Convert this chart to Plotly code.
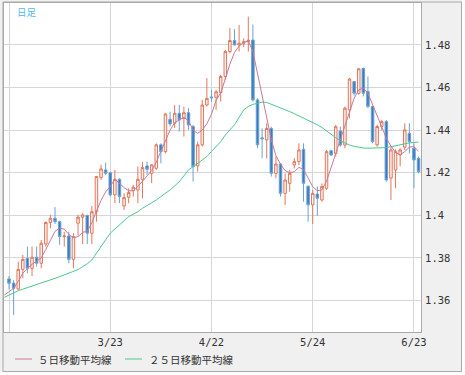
import pandas as pd
import plotly.graph_objects as go

# ---- data ----
start_date = "2021-02-19"
open_ = [1.3701, 1.3682, 1.3654, 1.3746, 1.3798, 1.3751, 1.3803, 1.3775, 1.3865, 1.3966,
         1.3986, 1.3970, 1.3900, 1.3903, 1.3793, 1.3963, 1.3991, 1.4000, 1.3916, 1.4017,
         1.4178, 1.4213, 1.4200, 1.4096, 1.4169, 1.4044, 1.4085, 1.4116, 1.4119, 1.4169,
         1.4232, 1.4197, 1.4221, 1.4331, 1.4299, 1.4451, 1.4432, 1.4479, 1.4455, 1.4482,
         1.4417, 1.4232, 1.4331, 1.4518, 1.4556, 1.4554, 1.4576, 1.4652, 1.4769, 1.4821,
         1.4800, 1.4808, 1.4815, 1.4823, 1.4542, 1.4364, 1.4354, 1.4408, 1.4197, 1.4241,
         1.4103, 1.4150, 1.4236, 1.4252, 1.4310, 1.4137, 1.4049, 1.4100, 1.4072, 1.4127,
         1.4303, 1.4291, 1.4396, 1.4330, 1.4495, 1.4628, 1.4573, 1.4690, 1.4581, 1.4511,
         1.4331, 1.4417, 1.4440, 1.4175, 1.4213, 1.4284, 1.4320, 1.4385, 1.4315, 1.4268]
high = [1.3715, 1.3696, 1.3782, 1.3814, 1.3853, 1.3853, 1.3853, 1.3884, 1.3971, 1.4002,
        1.4038, 1.3975, 1.3923, 1.3923, 1.3916, 1.4002, 1.4010, 1.4002, 1.4044, 1.4185,
        1.4237, 1.4248, 1.4205, 1.4213, 1.4174, 1.4103, 1.4127, 1.4143, 1.4229, 1.4250,
        1.4252, 1.4241, 1.4338, 1.4338, 1.4479, 1.4486, 1.4518, 1.4518, 1.4510, 1.4503,
        1.4425, 1.4346, 1.4542, 1.4644, 1.4589, 1.4589, 1.4660, 1.4777, 1.4879, 1.4874,
        1.4894, 1.4830, 1.4933, 1.4896, 1.4550, 1.4408, 1.4432, 1.4416, 1.4276, 1.4244,
        1.4197, 1.4213, 1.4268, 1.4338, 1.4338, 1.4137, 1.4119, 1.4135, 1.4150, 1.4307,
        1.4307, 1.4424, 1.4417, 1.4511, 1.4644, 1.4630, 1.4691, 1.4693, 1.4652, 1.4511,
        1.4425, 1.4448, 1.4448, 1.4320, 1.4310, 1.4315, 1.4432, 1.4432, 1.4338, 1.4276]
low = [1.3652, 1.3532, 1.3649, 1.3704, 1.3728, 1.3715, 1.3759, 1.3751, 1.3853, 1.3939,
       1.3959, 1.3861, 1.3853, 1.3775, 1.3751, 1.3905, 1.3865, 1.3865, 1.3865, 1.3970,
       1.4166, 1.4190, 1.4088, 1.4057, 1.4057, 1.4025, 1.4057, 1.4088, 1.4057, 1.4080,
       1.4190, 1.4151, 1.4213, 1.4244, 1.4291, 1.4417, 1.4409, 1.4393, 1.4370, 1.4401,
       1.4158, 1.4205, 1.4323, 1.4511, 1.4534, 1.4495, 1.4534, 1.4636, 1.4761, 1.4799,
       1.4769, 1.4790, 1.4769, 1.4534, 1.4315, 1.4268, 1.4268, 1.4182, 1.4174, 1.4088,
       1.4049, 1.4111, 1.4220, 1.4236, 1.4064, 1.3970, 1.3959, 1.3998, 1.4064, 1.4119,
       1.4279, 1.4276, 1.4322, 1.4315, 1.4456, 1.4562, 1.4566, 1.4558, 1.4503, 1.4338,
       1.4322, 1.4400, 1.4158, 1.4072, 1.4127, 1.4230, 1.4307, 1.4291, 1.4127, 1.4197]
close = [1.3681, 1.3657, 1.3746, 1.3793, 1.3751, 1.3803, 1.3775, 1.3869, 1.3966, 1.3986,
         1.3970, 1.3900, 1.3903, 1.3793, 1.3900, 1.3991, 1.4002, 1.3916, 1.4017, 1.4182,
         1.4218, 1.4197, 1.4096, 1.4169, 1.4088, 1.4083, 1.4107, 1.4132, 1.4169, 1.4224,
         1.4216, 1.4237, 1.4331, 1.4299, 1.4476, 1.4429, 1.4479, 1.4448, 1.4482, 1.4424,
         1.4229, 1.4331, 1.4518, 1.4549, 1.4552, 1.4580, 1.4652, 1.4769, 1.4821, 1.4800,
         1.4808, 1.4815, 1.4822, 1.4542, 1.4331, 1.4359, 1.4408, 1.4197, 1.4241, 1.4103,
         1.4166, 1.4197, 1.4252, 1.4307, 1.4150, 1.4049, 1.4103, 1.4080, 1.4135, 1.4299,
         1.4283, 1.4416, 1.4330, 1.4503, 1.4640, 1.4573, 1.4688, 1.4573, 1.4511, 1.4346,
         1.4417, 1.4440, 1.4166, 1.4307, 1.4299, 1.4307, 1.4401, 1.4346, 1.4260, 1.4205]

# moving averages, starting one trading day before the first visible candle
ma5 = [1.3626, 1.3642, 1.3657, 1.3689, 1.3728, 1.3750, 1.3770, 1.3785, 1.3800, 1.3840,
       1.3885, 1.3925, 1.3940, 1.3935, 1.3910, 1.3895, 1.3900, 1.3920, 1.3925, 1.3965,
       1.4020, 1.4070, 1.4110, 1.4135, 1.4170, 1.4150, 1.4130, 1.4115, 1.4115, 1.4135,
       1.4160, 1.4180, 1.4210, 1.4250, 1.4300, 1.4350, 1.4400, 1.4435, 1.4448, 1.4460,
       1.4445, 1.4400, 1.4385, 1.4400, 1.4430, 1.4475, 1.4540, 1.4575, 1.4640, 1.4710,
       1.4765, 1.4795, 1.4812, 1.4818, 1.4770, 1.4670, 1.4560, 1.4460, 1.4355, 1.4280,
       1.4240, 1.4210, 1.4200, 1.4205, 1.4225, 1.4215, 1.4175, 1.4135, 1.4115, 1.4120,
       1.4160, 1.4225, 1.4300, 1.4362, 1.4425, 1.4495, 1.4550, 1.4589, 1.4597, 1.4573,
       1.4518, 1.4464, 1.4417, 1.4362, 1.4325, 1.4295, 1.4284, 1.4299, 1.4320, 1.4323,
       1.4300]
ma25 = [1.3615, 1.3626, 1.3636, 1.3646, 1.3653, 1.3660, 1.3666, 1.3673, 1.3681, 1.3689,
        1.3697, 1.3704, 1.3712, 1.3720, 1.3728, 1.3735, 1.3745, 1.3759, 1.3772, 1.3790,
        1.3820, 1.3853, 1.3885, 1.3916, 1.3935, 1.3955, 1.3975, 1.3994, 1.4005, 1.4017,
        1.4033, 1.4045, 1.4056, 1.4072, 1.4088, 1.4103, 1.4119, 1.4138, 1.4158, 1.4185,
        1.4213, 1.4228, 1.4244, 1.4260, 1.4276, 1.4300, 1.4323, 1.4346, 1.4377, 1.4400,
        1.4425, 1.4460, 1.4495, 1.4511, 1.4521, 1.4526, 1.4532, 1.4530, 1.4522, 1.4512,
        1.4503, 1.4495, 1.4487, 1.4477, 1.4467, 1.4457, 1.4448, 1.4438, 1.4425, 1.4412,
        1.4395, 1.4380, 1.4365, 1.4349, 1.4338, 1.4330, 1.4324, 1.4319, 1.4316, 1.4315,
        1.4315, 1.4315, 1.4316, 1.4318, 1.4322, 1.4327, 1.4332, 1.4337, 1.4340, 1.4342,
        1.4344]

tick_dates = ["2021-02-19", "2021-03-23", "2021-04-22", "2021-05-24", "2021-06-23"]
tick_labels = ["", "3/23", "4/22", "5/24", "6/23"]
y_ticks = [1.36, 1.38, 1.40, 1.42, 1.44, 1.46, 1.48]
y_labels = ["1.36", "1.38", "1.4", "1.42", "1.44", "1.46", "1.48"]
series_names = ["５日移動平均線", "２５日移動平均線"]
title_text = "日足"

# ---- build ----
dates = pd.bdate_range(start_date, periods=len(close))
x_idx = list(range(len(close)))
ma_x = list(range(-1, len(close)))
tick_vals = [int(dates.get_loc(pd.Timestamp(d))) for d in tick_dates]

W, H = 465, 375
ML, MR, MT, MB = 4, 44, 3, 43
PW, PH = W - ML - MR, H - MT - MB


def px(x):
    return (x - ML) / PW


def py(y):
    return (H - MB - y) / PH


C_UP = "#e2775a"
C_DN_LINE = "#6aa2d6"
C_DN_FILL = "#3a7bbd"
C_MA5 = "#c9789b"
C_MA25 = "#4cc98c"

fig = go.Figure()
fig.add_trace(go.Scatter(x=ma_x, y=ma25, mode="lines", name=series_names[1],
                         line=dict(color=C_MA25, width=1), showlegend=False,
                         hoverinfo="skip"))
fig.add_trace(go.Candlestick(
    x=x_idx, open=open_, high=high, low=low, close=close,
    increasing=dict(line=dict(color=C_UP, width=1), fillcolor="#fff1ec"),
    decreasing=dict(line=dict(color=C_DN_LINE, width=1), fillcolor=C_DN_FILL),
    whiskerwidth=0, showlegend=False, hoverinfo="skip"))
fig.add_trace(go.Scatter(x=ma_x, y=ma5, mode="lines", name=series_names[0],
                         line=dict(color=C_MA5, width=1), showlegend=False,
                         hoverinfo="skip"))

shapes = [
    # outer frame
    dict(type="rect", xref="paper", yref="paper", x0=px(3), x1=px(461.5),
         y0=py(371.5), y1=py(2), line=dict(color="#a9a9a9", width=1),
         layer="above"),
    # white margins outside frame
    dict(type="rect", xref="paper", yref="paper", x0=px(462), x1=px(470),
         y0=py(380), y1=py(-5), line=dict(width=0), fillcolor="white", layer="above"),
    dict(type="rect", xref="paper", yref="paper", x0=px(-5), x1=px(470),
         y0=py(380), y1=py(372), line=dict(width=0), fillcolor="white", layer="above"),
    # legend line samples
    dict(type="line", xref="paper", yref="paper", x0=px(15), x1=px(32),
         y0=py(359), y1=py(359), line=dict(color=C_MA5, width=1)),
    dict(type="line", xref="paper", yref="paper", x0=px(125), x1=px(142),
         y0=py(359), y1=py(359), line=dict(color=C_MA25, width=1)),
]

annotations = [
    dict(text=title_text, xref="paper", yref="paper", x=px(15), y=py(12),
         xanchor="left", yanchor="middle", showarrow=False,
         font=dict(family="Noto Sans CJK JP", size=9.5, color="#4db8ec")),
    dict(text=series_names[0], xref="paper", yref="paper", x=px(36), y=py(359),
         xanchor="left", yanchor="middle", showarrow=False,
         font=dict(family="Noto Sans CJK JP", size=10.5, color="#333333")),
    dict(text=series_names[1], xref="paper", yref="paper", x=px(147), y=py(359),
         xanchor="left", yanchor="middle", showarrow=False,
         font=dict(family="Noto Sans CJK JP", size=10.5, color="#333333")),
]

fig.update_layout(
    width=W, height=H,
    margin=dict(l=ML, r=MR, t=MT, b=MB, pad=0),
    paper_bgcolor="#f0f0f0", plot_bgcolor="white",
    showlegend=False, boxgap=0.22,
    shapes=shapes, annotations=annotations,
    xaxis=dict(range=[-1.09, 89.53], tickvals=tick_vals, ticktext=tick_labels,
               showgrid=True, gridcolor="#d6d6d6", gridwidth=1,
               zeroline=False, showline=True, mirror=True, linecolor="#a9a9a9",
               ticks="", rangeslider=dict(visible=False), fixedrange=True,
               tickfont=dict(family="DejaVu Sans Mono", size=10.5, color="#333333")),
    yaxis=dict(range=[1.3452, 1.4997], side="right", tickvals=y_ticks,
               ticktext=y_labels, showgrid=True, gridcolor="#d6d6d6", gridwidth=1,
               zeroline=False, showline=True, mirror=True, linecolor="#a9a9a9",
               ticks="outside", ticklen=1, tickcolor="rgba(0,0,0,0)", fixedrange=True,
               tickfont=dict(family="DejaVu Sans Mono", size=10.5, color="#333333")),
)

fig.write_html(
    "out.html",
    config={"displayModeBar": False, "staticPlot": True},
    post_script="document.body.style.margin='0';document.body.style.padding='0';",
)
